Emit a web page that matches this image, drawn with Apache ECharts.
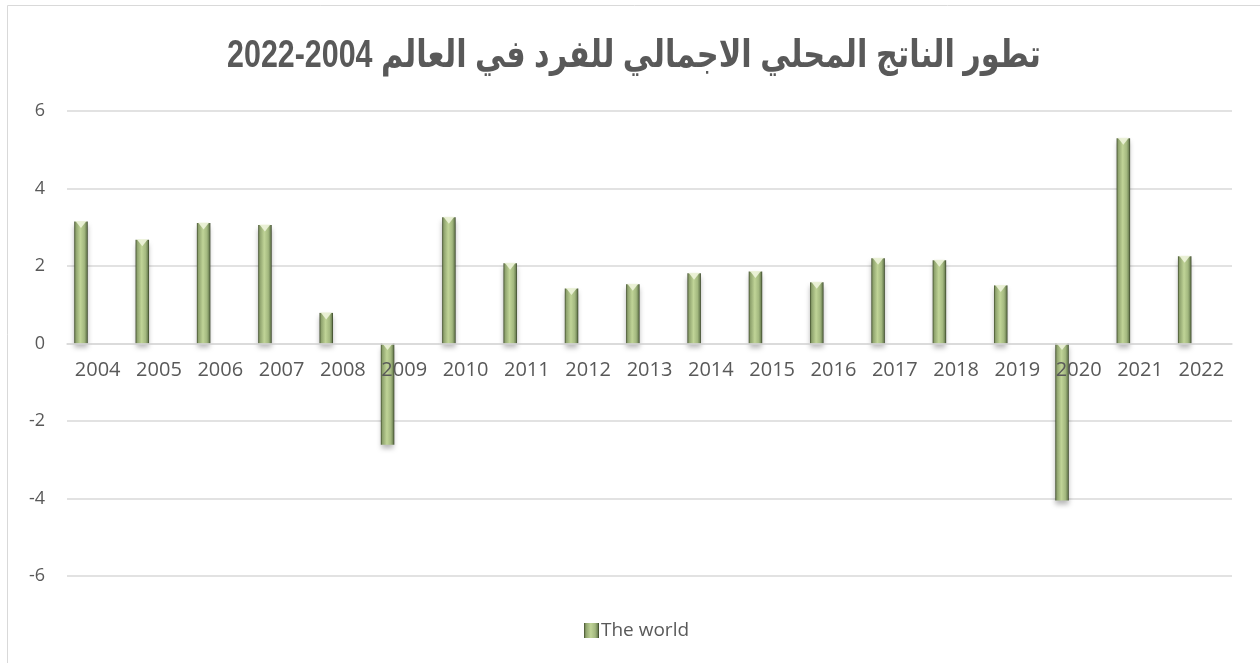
<!DOCTYPE html>
<html>
<head>
<meta charset="utf-8">
<script src="https://cdn.jsdelivr.net/npm/echarts@6/dist/echarts.min.js"></script>
<style>
  html, body { margin: 0; padding: 0; background: #ffffff; }
  #chart { width: 1260px; height: 663px; }
</style>
</head>
<body>
<div id="chart"></div>
<script>
// GDP per capita growth of the world, 2004-2022 (%)
const titleText = 'تطور الناتج المحلي الاجمالي للفرد في العالم 2004-2022';
const seriesName = 'The world';
const years = ['2004','2005','2006','2007','2008','2009','2010','2011','2012','2013',
               '2014','2015','2016','2017','2018','2019','2020','2021','2022'];
const growth = [3.15, 2.68, 3.11, 3.06, 0.79, -2.61, 3.26, 2.07, 1.42, 1.53,
                1.81, 1.86, 1.58, 2.20, 2.15, 1.50, -4.05, 5.30, 2.25];
const yTicks = { min: -6, max: 6, step: 2 };

const chart = echarts.init(document.getElementById('chart'), null, { renderer: 'canvas' });

const barFill = new echarts.graphic.LinearGradient(0, 0, 1, 0, [
  { offset: 0.00, color: '#3f4c2b' },
  { offset: 0.12, color: '#8ea26d' },
  { offset: 0.45, color: '#c0d497' },
  { offset: 0.75, color: '#a3b87f' },
  { offset: 0.90, color: '#75895a' },
  { offset: 1.00, color: '#323d22' }
]);

// bevel cap sitting at the upper end of each bar
const capData = growth.map((v, i) => [years[i], Math.max(v, 0)]);

const grid = { left: 67, right: 28, top: 111, bottom: 87 };
// category labels sit just under the zero line
const plotH = 663 - grid.top - grid.bottom;
const zeroShift = plotH * (0 - yTicks.min) / (yTicks.max - yTicks.min);

chart.setOption({
  animation: false,
  graphic: [
    {
      type: 'rect',
      shape: { x: 7.5, y: 5.5, width: 1300, height: 700 },
      style: { fill: 'none', stroke: '#d9d9d9', lineWidth: 1 },
      silent: true
    },
    {
      // condensed bold title
      type: 'text',
      x: 634,
      y: 57,
      scaleX: 0.8,
      style: {
        text: titleText,
        font: 'bold 38px "Liberation Sans", "DejaVu Sans", sans-serif',
        fill: '#595959',
        textAlign: 'center',
        textVerticalAlign: 'middle'
      },
      silent: true
    }
  ],
  legend: {
    data: [seriesName],
    left: 579,
    top: 616,
    itemWidth: 15,
    itemHeight: 15,
    icon: 'rect',
    textStyle: {
      fontFamily: '"Open Sans", sans-serif',
      fontSize: 19,
      color: '#595959',
      padding: [0, 0, 0, -3]
    }
  },
  grid: grid,
  xAxis: {
    type: 'category',
    data: years,
    offset: -zeroShift,
    axisLine: { onZero: false, lineStyle: { color: '#d9d9d9', width: 1.5 } },
    axisTick: { show: false },
    axisLabel: {
      fontFamily: '"Open Sans", sans-serif',
      fontSize: 20,
      color: '#595959',
      margin: 17
    },
    z: 6
  },
  yAxis: {
    type: 'value',
    min: yTicks.min,
    max: yTicks.max,
    interval: yTicks.step,
    axisLine: { show: false },
    axisTick: { show: false },
    splitLine: { lineStyle: { color: '#d9d9d9', width: 1.5 } },
    axisLabel: {
      fontFamily: '"Open Sans", sans-serif',
      fontSize: 18,
      color: '#595959',
      margin: 22
    }
  },
  series: [
    {
      name: seriesName,
      type: 'bar',
      data: growth,
      barWidth: 13.5,
      barGap: '147%',
      itemStyle: {
        color: barFill,
        shadowColor: 'rgba(0,0,0,0.28)',
        shadowBlur: 5,
        shadowOffsetY: 4
      },
      z: 3
    },
    {
      name: 'spacer',
      type: 'bar',
      data: years.map(() => null),
      barWidth: 13.5,
      silent: true
    },
    {
      name: 'cap',
      type: 'scatter',
      data: capData,
      symbol: 'triangle',
      symbolRotate: 180,
      symbolSize: [11, 7],
      symbolOffset: [-16.7, 3],
      itemStyle: { color: '#eef4dc', opacity: 0.9 },
      silent: true,
      z: 4
    }
  ]
});
</script>
</body>
</html>
